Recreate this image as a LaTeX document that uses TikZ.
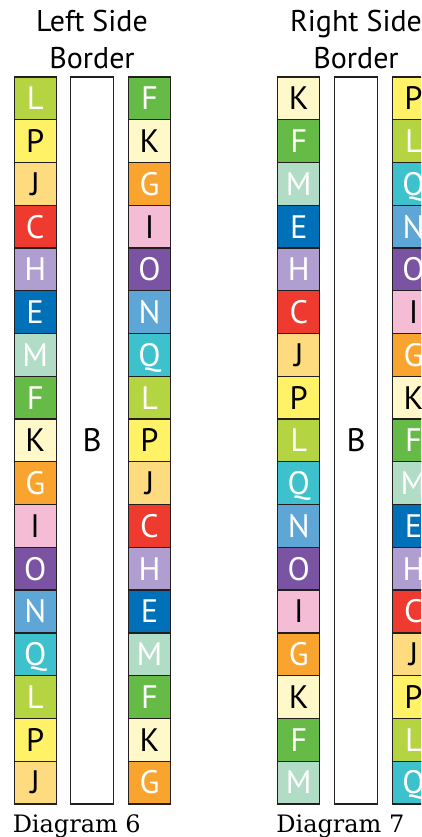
\documentclass[tikz,border=0pt]{standalone}
\usepackage{fontspec}
\setmainfont{PT Sans}
\newfontfamily\capfont{DejaVu Serif}
\usetikzlibrary{positioning, calc}
% cell fills
\definecolor{cL}{RGB}{181,212,66}
\definecolor{cP}{RGB}{255,242,102}
\definecolor{cJ}{RGB}{254,219,126}
\definecolor{cC}{RGB}{238,58,47}
\definecolor{cH}{RGB}{176,158,209}
\definecolor{cE}{RGB}{0,112,184}
\definecolor{cM}{RGB}{177,220,197}
\definecolor{cF}{RGB}{102,187,70}
\definecolor{cK}{RGB}{255,248,201}
\definecolor{cG}{RGB}{249,164,46}
\definecolor{cI}{RGB}{245,188,214}
\definecolor{cO}{RGB}{122,84,162}
\definecolor{cN}{RGB}{94,166,214}
\definecolor{cQ}{RGB}{61,193,205}
% letter colours
\colorlet{tL}{white}
\colorlet{tP}{black}
\colorlet{tJ}{black}
\colorlet{tC}{white}
\colorlet{tH}{white}
\colorlet{tE}{white}
\colorlet{tM}{white}
\colorlet{tF}{white}
\colorlet{tK}{black}
\colorlet{tG}{white}
\colorlet{tI}{black}
\colorlet{tO}{white}
\colorlet{tN}{white}
\colorlet{tQ}{white}
\definecolor{edge}{RGB}{35,31,32}

\begin{document}
\begin{tikzpicture}[
        x=1pt, y=-1pt,
        cell/.style={rectangle, draw=edge, line width=1.3pt, minimum width=42pt, minimum height=42.76pt,
            inner sep=0pt, font=\fontsize{32.5}{38}\selectfont, text height=22.7pt, text depth=0pt},
        border/.style={rectangle, draw=edge, fill=white, line width=1.3pt, minimum width=43pt, minimum height=727pt,
            inner sep=0pt, font=\fontsize{32.5}{38}\selectfont},
        title/.style={align=center, inner sep=0pt, font=\fontsize{30}{37}\selectfont},
        caption/.style={anchor=base west, inner sep=0pt, font=\capfont\fontsize{24}{28}\selectfont}
    ]
        \useasboundingbox (0,0) rectangle (421,837);
        \clip (0,0) rectangle (421,837);

        % Diagram 6
        \node[border] (lb) at (92,440.5) {B};
        \foreach \l [count=\i] in {L,P,J,C,H,E,M,F,K,G,I,O,N,Q,L,P,J}
            \node[cell, fill=c\l, text=t\l] (la-\i) at (35.2,77+42.76*\i-21.38) {\l};
        \foreach \l [count=\i] in {F,K,G,I,O,N,Q,L,P,J,C,H,E,M,F,K,G}
            \node[cell, fill=c\l, text=t\l] (lc-\i) at (149.5,77+42.76*\i-21.38) {\l};

        \node[title, above=7pt of lb] (lt) {Left Side\\Border};
        \node[caption] (lcap) at ($(la-17.south west)+(-1,28)$) {Diagram 6};

        % Diagram 7
        \node[border] (rb) at (356,440.5) {B};
        \foreach \l [count=\i] in {K,F,M,E,H,C,J,P,L,Q,N,O,I,G,K,F,M}
            \node[cell, fill=c\l, text=t\l] (ra-\i) at (298.8,77+42.76*\i-21.38) {\l};
        \foreach \l [count=\i] in {P,L,Q,N,O,I,G,K,F,M,E,H,C,J,P,L,Q}
            \node[cell, fill=c\l, text=t\l] (rc-\i) at (413.5,77+42.76*\i-21.38) {\l};

        \node[title, above=7pt of rb] (rt) {Right Side\\Border};
        \node[caption] (rcap) at ($(ra-17.south west)+(-1,28)$) {Diagram 7};

    \end{tikzpicture}
\end{document}
